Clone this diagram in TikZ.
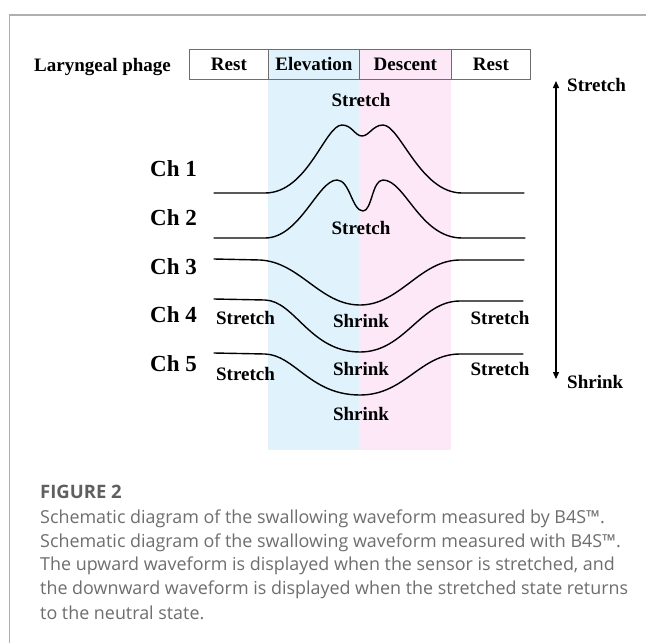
\documentclass[tikz,border=0pt]{standalone}
\usepackage{fontspec}
\setmainfont{Liberation Serif}
\newfontfamily\capfont{Open Sans}
\usetikzlibrary{arrows.meta}
\definecolor{bandblue}{RGB}{224,243,252}
\definecolor{bandpink}{RGB}{252,232,246}
\definecolor{framegray}{RGB}{175,175,175}
\definecolor{celldraw}{RGB}{110,110,110}
\definecolor{captitle}{RGB}{95,95,95}
\definecolor{captext}{RGB}{110,110,110}
\begin{document}
\begin{tikzpicture}[x=1pt,y=-1pt,
  lbl/.style={font=\fontsize{19}{22}\selectfont\bfseries, inner sep=0pt, anchor=base},
  chl/.style={font=\fontsize{23}{26}\selectfont\bfseries, inner sep=0pt, anchor=base west},
  cellbox/.style={draw=celldraw, line width=0.8pt, minimum height=30pt, inner sep=0pt,
    anchor=north west, text height=13pt, text depth=0pt,
    font=\fontsize{19}{22}\selectfont\bfseries},
  wave/.style={line width=1.4pt, line cap=round, line join=round},
  capline/.style={font=\capfont\fontsize{17.9}{24}\selectfont, text=captext, inner sep=0pt, anchor=base west}]
\useasboundingbox (0,0) rectangle (646,643);
\fill[white] (0,0) rectangle (646,643);
\draw[framegray, line width=1.2pt] (9.5,643) -- (9.5,15) -- (646,15);
% phase bands
\fill[bandblue] (268,49) rectangle (359,450);
\fill[bandpink] (359,49) rectangle (451,450);
% header row
\node[font=\fontsize{19}{22}\selectfont\bfseries, inner sep=0pt, anchor=base west] (phase) at (34,71.5) {Laryngeal phage};
\node[cellbox, minimum width=79pt] (rest1) at (189,49) {Rest};
\node[cellbox, minimum width=91pt] (elev) at (268,49) {Elevation};
\node[cellbox, minimum width=92pt] (desc) at (359,49) {Descent};
\node[cellbox, minimum width=79pt] (rest2) at (451,49) {Rest};
% channel labels
\node[chl] (ch1) at (150,176.6) {Ch 1};
\node[chl] (ch2) at (150,225.6) {Ch 2};
\node[chl] (ch3) at (150,274.6) {Ch 3};
\node[chl] (ch4) at (150,322.6) {Ch 4};
\node[chl] (ch5) at (150,371.6) {Ch 5};
% waveforms
\draw[wave] (214,193) -- (265,193) .. controls (308,193) and (325,125) .. (342,125)
  .. controls (352,125) and (355,136) .. (362,136) .. controls (369,136) and (373,125) .. (383,125)
  .. controls (400,125) and (420,193) .. (462,193) -- (524,193);
\draw[wave] (214,238) -- (265,238) .. controls (300,238) and (318,180) .. (337,180)
  .. controls (350,180) and (352,211) .. (363,211) .. controls (372,211) and (372,180) .. (383,180)
  .. controls (405,180) and (420,238) .. (462,238) -- (525,238);
\draw[wave] (214,259) -- (260,260) .. controls (300,262) and (320,305) .. (360,305)
  .. controls (400,305) and (420,260) .. (460,260) -- (524,260);
\draw[wave] (214,299) -- (265,300) .. controls (295,301) and (310,352) .. (360,352)
  .. controls (405,352) and (420,301) .. (460,301) -- (523,301);
\draw[wave] (214,353) -- (265,354) .. controls (295,355) and (310,395) .. (360,395)
  .. controls (405,395) and (420,354) .. (460,354) -- (523,354);
% state labels
\node[lbl] (s1) at (361,106.5) {Stretch};
\node[lbl] (s2) at (361,234.5) {Stretch};
\node[lbl] (s4l) at (245.5,324.5) {Stretch};
\node[lbl] (k4) at (361,327.5) {Shrink};
\node[lbl] (s4r) at (500,324.5) {Stretch};
\node[lbl] (s5l) at (245.5,380.5) {Stretch};
\node[lbl] (k5) at (361,375.5) {Shrink};
\node[lbl] (s5r) at (500,375.5) {Stretch};
\node[lbl] (k6) at (361,420.5) {Shrink};
% direction arrow
\coordinate (atop) at (556,81);
\coordinate (abot) at (556,379);
\draw[line width=1.3pt, {Triangle[width=6pt,length=7pt]}-{Triangle[width=6pt,length=7pt]}] (atop) -- (abot);
\node[lbl, anchor=base west] (rs) at (567,91.5) {Stretch};
\node[lbl, anchor=base west] (rk) at (567,388.5) {Shrink};
% caption
\node[font=\capfont\bfseries\fontsize{18.5}{24}\selectfont, text=captitle, inner sep=0pt, anchor=base west] (fig) at (40,498.5) {FIGURE 2};
\node[capline] (c1) at (40,523.5) {Schematic diagram of the swallowing waveform measured by B4S™.};
\node[capline] (c2) at (40,547.5) {Schematic diagram of the swallowing waveform measured with B4S™.};
\node[capline] (c3) at (40,570.5) {The upward waveform is displayed when the sensor is stretched, and};
\node[capline] (c4) at (40,594.5) {the downward waveform is displayed when the stretched state returns};
\node[capline] (c5) at (40,619.5) {to the neutral state.};
\end{tikzpicture}
\end{document}
